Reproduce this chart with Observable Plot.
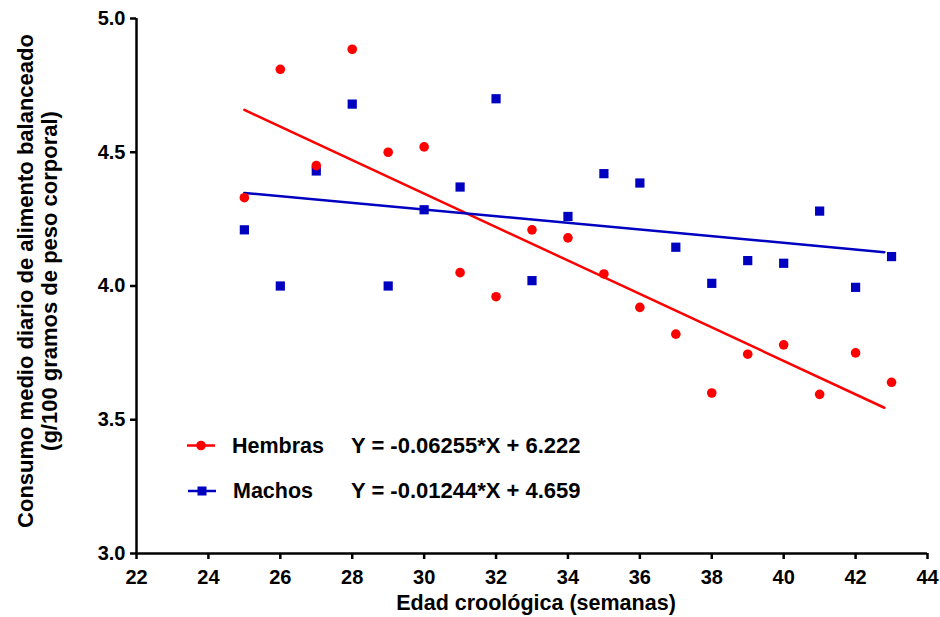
<!DOCTYPE html>
<html>
<head>
<meta charset="utf-8">
<script src="https://cdn.jsdelivr.net/npm/d3@7"></script>
<script src="https://cdn.jsdelivr.net/npm/@observablehq/plot@0.6"></script>
<style>
  html, body { margin: 0; padding: 0; background: #fff; }
  #wrap { position: relative; width: 940px; height: 617px; }
  #wrap svg { font-family: "Liberation Sans", Arial, sans-serif; }
  #legend { position: absolute; left: 0; top: 0; pointer-events: none; }
</style>
</head>
<body>
<div id="wrap"></div>
<script>
// ---- data ----
const weeks = [25,26,27,28,29,30,31,32,33,34,35,36,37,38,39,40,41,42,43];
const hembras = [4.33,4.81,4.45,4.885,4.50,4.52,4.05,3.96,4.21,4.18,4.045,3.92,3.82,3.60,3.745,3.78,3.595,3.75,3.64];
const machos  = [4.21,4.00,4.43,4.68,4.00,4.285,4.37,4.70,4.02,4.26,4.42,4.385,4.145,4.01,4.095,4.085,4.28,3.995,4.11];
const seriesNames = ["Hembras", "Machos"];
const slopes = [-0.06255, -0.01244];
const intercepts = [6.222, 4.659];
const equations = ["Y = -0.06255*X + 6.222", "Y = -0.01244*X + 4.659"];
const fitRange = [25, 42.8];
const xTicks = [22,24,26,28,30,32,34,36,38,40,42,44];
const yTicks = [3.0,3.5,4.0,4.5,5.0];
const xDomain = [22, 44];
const yDomain = [3, 5];
const xTitle = "Edad croológica (semanas)";
const yTitle1 = "Consumo medio diario de alimento balanceado";
const yTitle2 = "(g/100 gramos de peso corporal)";

const colors = ["#ff0000", "#0000c0"];

const hData = weeks.map((w, i) => ({x: w, y: hembras[i]}));
const mData = weeks.map((w, i) => ({x: w, y: machos[i]}));
const fits = slopes.map((s, k) => fitRange.map(x => ({x, y: intercepts[k] + s * x})));

const chart = Plot.plot({
  width: 940,
  height: 617,
  marginLeft: 136,
  marginRight: 13,
  marginTop: 18,
  marginBottom: 64,
  x: {domain: xDomain},
  y: {domain: yDomain},
  marks: [
    Plot.axisX({ticks: xTicks, tickSize: 6, tickPadding: 10, strokeWidth: 2.5, fontSize: 20, fontWeight: "bold", label: null, fill: "#000"}),
    Plot.axisY({ticks: yTicks, tickFormat: d3.format(".1f"), tickSize: 6, tickPadding: 5, strokeWidth: 2.5, fontSize: 20, fontWeight: "bold", label: null, fill: "#000"}),
    Plot.ruleY([yDomain[0]], {stroke: "#000", strokeWidth: 2.5}),
    Plot.ruleX([xDomain[0]], {stroke: "#000", strokeWidth: 2.5}),
    Plot.line(fits[0], {x: "x", y: "y", stroke: colors[0], strokeWidth: 2.5}),
    Plot.line(fits[1], {x: "x", y: "y", stroke: colors[1], strokeWidth: 2.5}),
    Plot.dot(mData, {x: "x", y: "y", symbol: "square", r: 5.2, fill: colors[1], stroke: "none"}),
    Plot.dot(hData, {x: "x", y: "y", symbol: "circle", r: 4.8, fill: colors[0], stroke: "none"}),
    Plot.text([yTitle1], {frameAnchor: "left", rotate: -90, dx: -111, dy: -5, lineAnchor: "middle", textAnchor: "middle", fontSize: 22, fontWeight: "bold", fill: "#000"}),
    Plot.text([yTitle2], {frameAnchor: "left", rotate: -90, dx: -87, dy: -5, lineAnchor: "middle", textAnchor: "middle", fontSize: 22, fontWeight: "bold", fill: "#000"}),
    Plot.text([xTitle], {frameAnchor: "bottom", dx: 4, dy: 50, lineAnchor: "middle", textAnchor: "middle", fontSize: 21.5, fontWeight: "bold", fill: "#000"})
  ]
});
document.getElementById("wrap").appendChild(chart);

// ---- legend overlay (inside plot area, as in the reference) ----
const leg = d3.select("#wrap").append("svg")
  .attr("id", "legend").attr("width", 940).attr("height", 617)
  .style("font-family", "'Liberation Sans', Arial, sans-serif");
const rowY = [445.5, 491];
seriesNames.forEach((name, k) => {
  const g = leg.append("g").attr("transform", `translate(0,${rowY[k]})`);
  g.append("line").attr("x1", 187 + k).attr("x2", 215 + k).attr("y1", 0).attr("y2", 0)
    .attr("stroke", colors[k]).attr("stroke-width", 2.5);
  if (k === 0) {
    g.append("circle").attr("cx", 201).attr("cy", 0).attr("r", 4.8).attr("fill", colors[k]);
  } else {
    g.append("rect").attr("x", 202 - 4.5).attr("y", -4.5).attr("width", 9).attr("height", 9).attr("fill", colors[k]);
  }
  g.append("text").attr("x", 232 + k).attr("y", 7).attr("font-size", 21.5).attr("font-weight", "bold")
    .attr("fill", "#000").text(name);
  g.append("text").attr("x", 351).attr("y", 7).attr("font-size", 22).attr("font-weight", "bold")
    .attr("fill", "#000").text(equations[k]);
});
</script>
</body>
</html>
